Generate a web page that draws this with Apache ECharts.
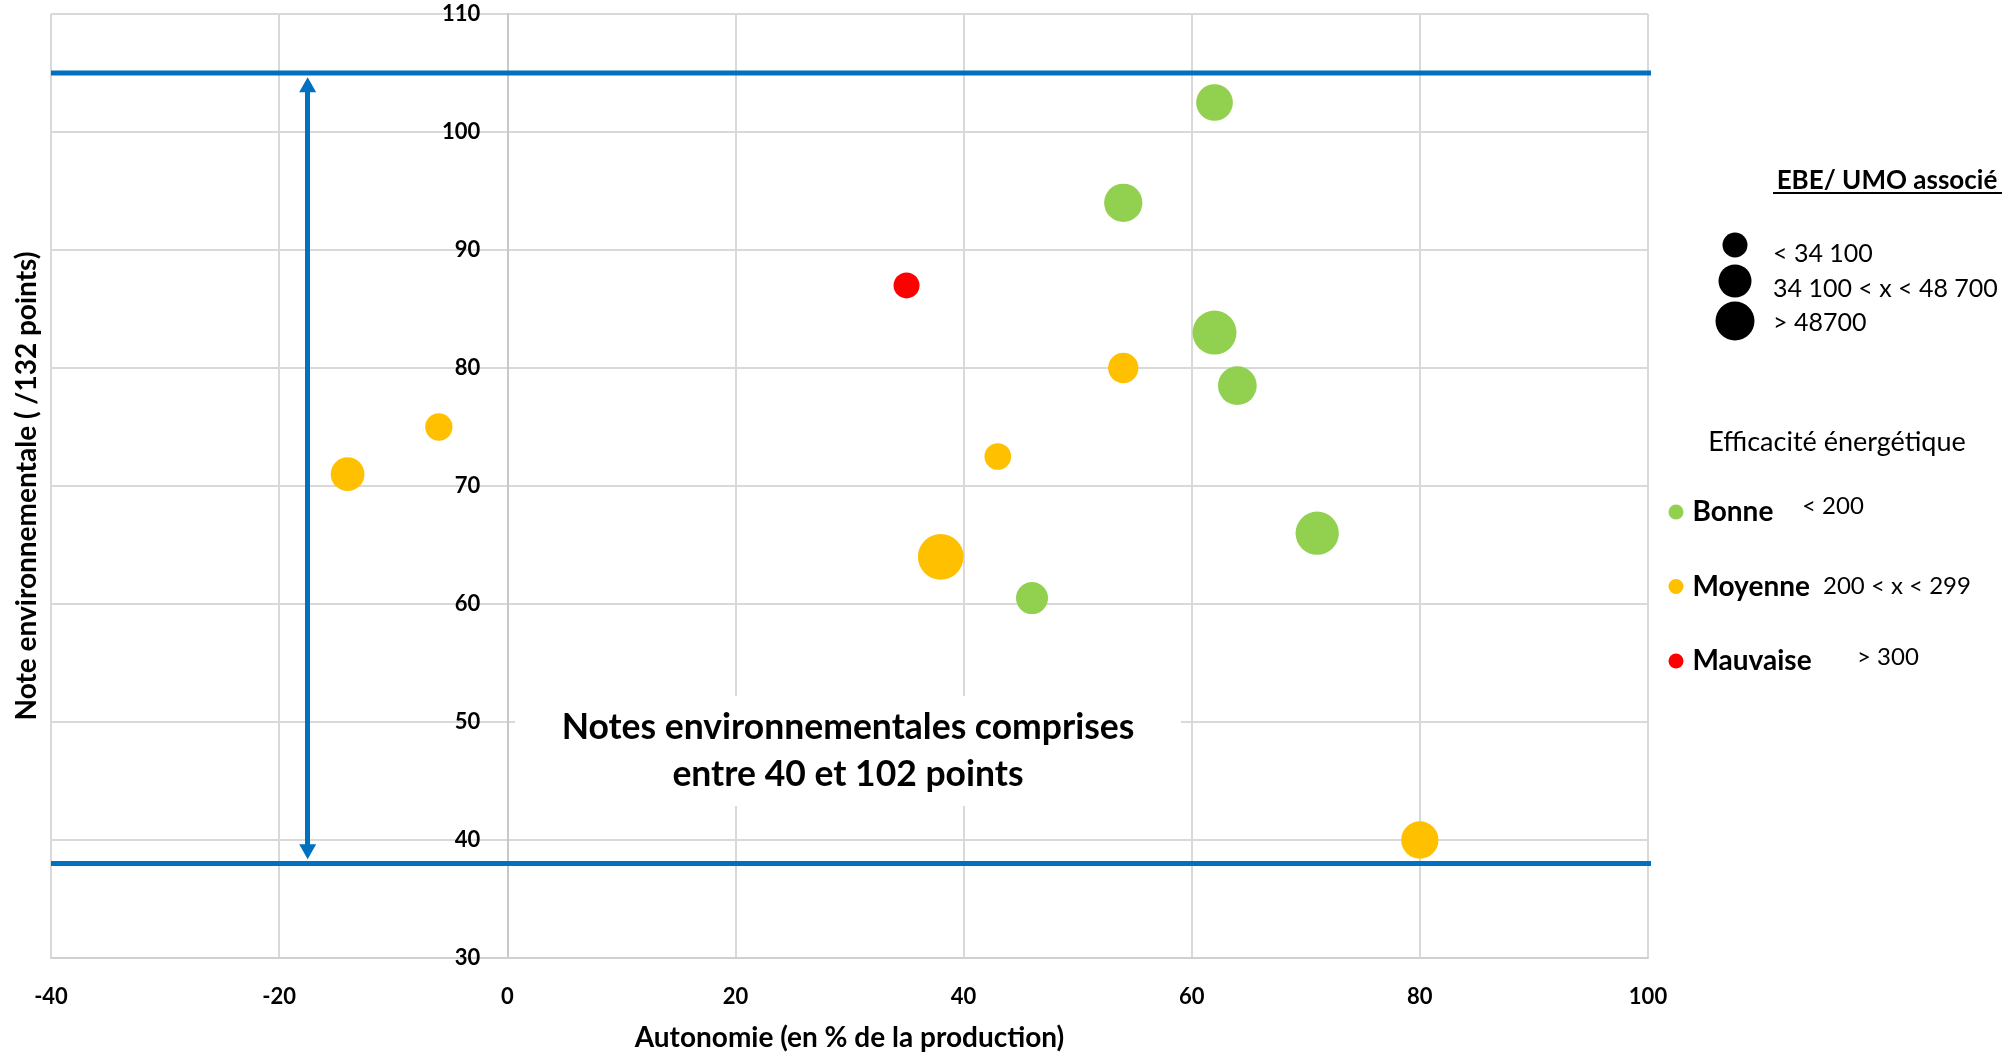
<!DOCTYPE html>
<html><head><meta charset="utf-8">
<script src="https://cdn.jsdelivr.net/npm/echarts@6/dist/echarts.min.js"></script>
<style>html,body{margin:0;padding:0;background:#fff;} #c{width:2014px;height:1057px;}</style>
</head><body><div id="c"></div>
<script>
// ---- data ----
const xTicks = [-40, -20, 0, 20, 40, 60, 80, 100];
const yTicks = [30, 40, 50, 60, 70, 80, 90, 100, 110];
const categories = ['Bonne', 'Moyenne', 'Mauvaise'];
const thresholds = ['< 200', '200 < x < 299', '> 300'];
const colors = ['#92D050', '#FFC000', '#FF0000'];
// Bonne
const bonneX = [62, 54, 62, 64, 71, 46];
const bonneY = [102.5, 94, 83, 78.5, 66, 60.5];
const bonneEBE = [37300, 40600, 53600, 41500, 51900, 28400];
// Moyenne
const moyX = [54, -6, -14, 43, 38, 80];
const moyY = [80, 75, 71, 72.5, 64, 40];
const moyEBE = [25400, 20600, 31500, 19700, 57900, 38500];
// Mauvaise
const mauvX = [35];
const mauvY = [87];
const mauvEBE = [18700];
// size legend
const sizeLegendLabels = ['< 34 100', '34 100 < x < 48 700', '> 48700'];
const sizeLegendValues = [17300, 30200, 42100];
// annotation
const boundHigh = 105, boundLow = 38;
const arrowX = -17.5, arrowTop = 104, arrowBottom = 39;
const xLineEnd = 100.7;
const noteText = 'Notes environnementales comprises\nentre 40 et 102 points';

const FONT = 'Lato';
const bubble = v => 0.19 * Math.sqrt(v);
function pts(xs, ys, vs) { return xs.map((x, i) => [x, ys[i], vs[i]]); }
const seriesData = [pts(bonneX, bonneY, bonneEBE), pts(moyX, moyY, moyEBE), pts(mauvX, mauvY, mauvEBE)];

const W = 2014, GL = 51, GR = 366;
const gridW = W - GL - GR;
const xMin = xTicks[0], xMax = xTicks[xTicks.length - 1];
const yAxisOffset = -((0 - xMin) / (xMax - xMin)) * gridW; // put y axis at x = 0

const chart = echarts.init(document.getElementById('c'), null, { renderer: 'canvas' });
const blue = '#0070C0';
const series = categories.map((name, i) => ({
  name, type: 'scatter', data: seriesData[i],
  symbol: 'circle',
  symbolSize: v => bubble(v[2]),
  itemStyle: { color: colors[i], opacity: 1 },
  z: 3
}));
series.push({
  type: 'line', data: [[xMin, boundHigh], [xLineEnd, boundHigh]], clip: false,
  symbol: 'none', lineStyle: { color: blue, width: 5 }, z: 5, silent: true
});
series.push({
  type: 'line', data: [[xMin, boundLow], [xLineEnd, boundLow]], clip: false,
  symbol: 'none', lineStyle: { color: blue, width: 5 }, z: 5, silent: true,
  markLine: {
    silent: true, symbol: ['triangle', 'triangle'], symbolSize: [17, 15],
    label: { show: false },
    lineStyle: { color: blue, width: 5, type: 'solid' },
    data: [[{ coord: [arrowX, arrowTop] }, { coord: [arrowX, arrowBottom] }]]
  }
});

const graphic = [
  { type: 'rect', shape: { x: 515, y: 696, width: 666, height: 110 }, style: { fill: '#fff' }, z: 10 },
  { type: 'text', x: 848, y: 751, z: 11, style: { text: noteText, font: `bold 35.5px ${FONT}`, fill: '#000', align: 'center', verticalAlign: 'middle', lineHeight: 47 } },
  { type: 'text', x: 1887, y: 181, style: { text: 'EBE/ UMO associé', font: `bold 26px ${FONT}`, fill: '#000', align: 'center', verticalAlign: 'middle' } },
  { type: 'rect', shape: { x: 1773, y: 192, width: 229, height: 2 }, style: { fill: '#000' } },
  { type: 'text', x: 1837, y: 442, style: { text: 'Efficacité énergétique', font: `27px ${FONT}`, fill: '#000', align: 'center', verticalAlign: 'middle' } }
];
const sizeY = [245, 281, 321];
const textY = [254, 289, 323];
sizeLegendLabels.forEach((t, i) => {
  graphic.push({ type: 'circle', shape: { cx: 1735, cy: sizeY[i], r: bubble(sizeLegendValues[i]) / 2 }, style: { fill: '#000' } });
  graphic.push({ type: 'text', x: 1773, y: textY[i], style: { text: t, font: `25px ${FONT}`, fill: '#000', align: 'left', verticalAlign: 'middle' } });
});
const thrX = [1802, 1823, 1857];
const thrY = [506, 586, 657];
thresholds.forEach((t, i) => {
  graphic.push({ type: 'text', x: thrX[i], y: thrY[i], style: { text: t, font: `24px ${FONT}`, fill: '#000', align: 'left', verticalAlign: 'middle' } });
});

chart.setOption({
  animation: false,
  backgroundColor: '#fff',
  grid: { left: GL, right: GR, top: 14, bottom: 99, containLabel: false, outerBoundsMode: 'none' },
  xAxis: {
    type: 'value', min: xMin, max: xMax, interval: xTicks[1] - xTicks[0],
    name: 'Autonomie (en % de la production)', nameLocation: 'middle', nameGap: 66,
    nameTextStyle: { fontFamily: FONT, fontWeight: 'bold', fontSize: 28, color: '#000' },
    axisLine: { show: true, onZero: false, lineStyle: { color: '#d0d0d0', width: 2 } },
    axisTick: { show: false },
    axisLabel: { margin: 28, fontFamily: FONT, fontWeight: 'bold', fontSize: 22, color: '#000' },
    splitLine: { show: true, lineStyle: { color: '#d9d9d9', width: 2 } }
  },
  yAxis: {
    type: 'value', min: yTicks[0], max: yTicks[yTicks.length - 1], interval: yTicks[1] - yTicks[0],
    offset: yAxisOffset,
    name: 'Note environnementale ( /132 points)', nameLocation: 'middle', nameGap: 466,
    nameTextStyle: { fontFamily: FONT, fontWeight: 'bold', fontSize: 28, color: '#000' },
    axisLine: { show: true, onZero: false, lineStyle: { color: '#c8c8c8', width: 2 } },
    axisTick: { show: false },
    axisLabel: { margin: 27, fontFamily: FONT, fontWeight: 'bold', fontSize: 22, color: '#000' },
    splitLine: { show: true, lineStyle: { color: '#d9d9d9', width: 2 } }
  },
  legend: {
    data: categories, orient: 'vertical', left: 1668.5, top: 497, icon: 'circle', padding: 0,
    itemWidth: 15, itemHeight: 15, itemGap: 44.5, selectedMode: false,
    textStyle: { fontFamily: FONT, fontWeight: 'bold', fontSize: 28, color: '#000', lineHeight: 30, padding: [0, 0, 0, 4] }
  },
  graphic,
  series
});
</script></body></html>
